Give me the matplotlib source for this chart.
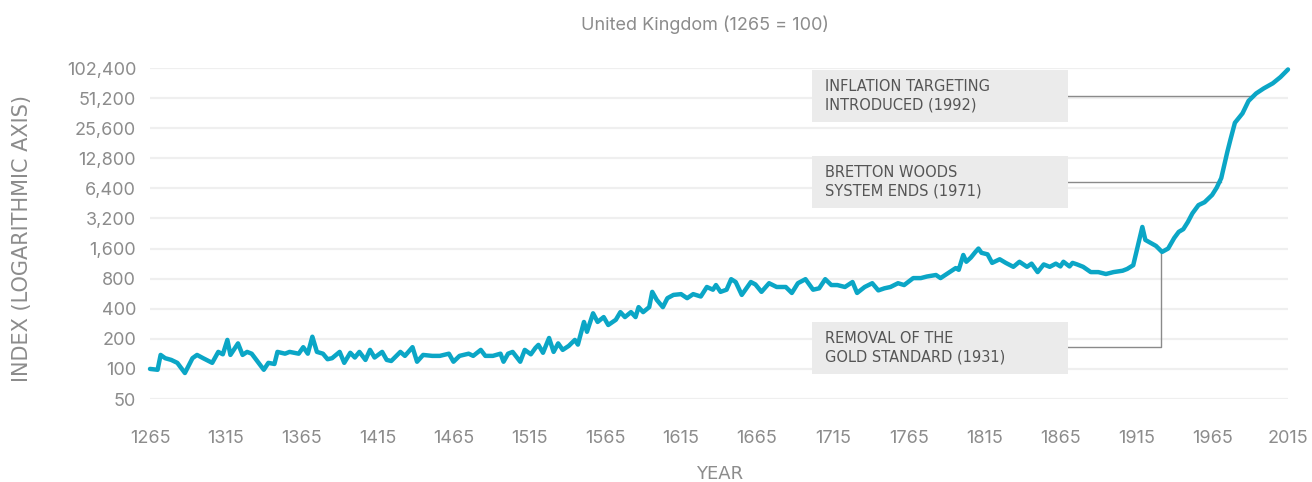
import matplotlib.pyplot as plt
from matplotlib.patches import Rectangle
from matplotlib.ticker import FixedLocator, NullLocator

plt.rcParams['font.family'] = ['Inter', 'DejaVu Sans']

LINE = "#0ba6c6"
GREY_TXT = "#8c8c8c"
GRID = "#efefef"
BOX = "#ebebeb"

# price index (1265 = 100)
years = [
    1265, 1270, 1272, 1275, 1279, 1283, 1288, 1293, 1296, 1300, 1306, 1310, 1313,
    1316, 1318, 1323, 1326, 1329, 1332, 1336, 1340, 1343, 1347, 1349, 1354, 1357,
    1363, 1366, 1369, 1372, 1375, 1379, 1382, 1385, 1390, 1393, 1397, 1400, 1403,
    1407, 1410, 1413, 1418, 1421, 1424, 1430, 1433, 1438, 1441, 1445, 1451, 1456,
    1462, 1465, 1469, 1475, 1478, 1483, 1486, 1491, 1496, 1498, 1501, 1504, 1509,
    1512, 1516, 1519, 1521, 1524, 1528, 1531, 1534, 1537, 1541, 1545, 1547, 1551,
    1553, 1557, 1560, 1564, 1567, 1572, 1575, 1578, 1582, 1585, 1587, 1590, 1594,
    1596, 1599, 1603, 1606, 1610, 1615, 1619, 1623, 1628, 1632, 1636, 1638, 1641,
    1645, 1648, 1651, 1655, 1661, 1664, 1668, 1673, 1678, 1684, 1688, 1692, 1697,
    1702, 1706, 1710, 1714, 1718, 1723, 1728, 1731, 1736, 1741, 1745, 1749, 1753,
    1758, 1762, 1768, 1773, 1777, 1783, 1786, 1791, 1796, 1798, 1801, 1803, 1806,
    1809, 1811, 1813, 1817, 1820, 1825, 1829, 1834, 1838, 1843, 1846, 1850, 1854,
    1858, 1862, 1865, 1867, 1871, 1873, 1876, 1880, 1885, 1890, 1895, 1900, 1906,
    1909, 1913, 1916, 1919, 1921, 1925, 1928, 1932, 1936, 1940, 1943, 1946, 1949,
    1952, 1956, 1960, 1965, 1968, 1971, 1973, 1975, 1977, 1980, 1985, 1989, 1994,
    1999, 2005, 2010, 2015,
]
index = [
    100, 98, 138, 128, 123, 115, 91, 128, 138, 128, 115, 148, 140,
    195, 138, 180, 138, 148, 142, 118, 98, 115, 112, 148, 142, 148,
    142, 165, 142, 210, 148, 142, 125, 128, 148, 115, 145, 130, 148,
    123, 155, 130, 148, 123, 120, 148, 135, 165, 118, 138, 135, 135,
    142, 118, 135, 142, 135, 155, 135, 135, 142, 118, 142, 148, 118,
    155, 140, 162, 174, 145, 204, 148, 180, 155, 170, 195, 175, 295,
    235, 360, 295, 330, 275, 310, 370, 330, 370, 330, 415, 370, 415,
    590, 490, 415, 510, 550, 560, 510, 560, 530, 660, 620, 690, 590,
    620, 790, 740, 550, 740, 700, 590, 720, 660, 660, 575, 720, 790,
    620, 640, 790, 690, 690, 660, 740, 575, 660, 720, 610, 640, 660,
    720, 690, 810, 810, 840, 870, 810, 910, 1020, 980, 1380, 1180, 1300,
    1480, 1600, 1450, 1400, 1150, 1250, 1150, 1050, 1180, 1050, 1130, 930, 1110,
    1050, 1130, 1060, 1180, 1060, 1150, 1110, 1050, 930, 930, 890, 930, 960,
    1000, 1090, 1700, 2630, 1950, 1800, 1700, 1480, 1600, 2040, 2350, 2500, 2950,
    3600, 4350, 4650, 5500, 6500, 8100, 11000, 14800, 19500, 29000, 36000, 48000, 57000,
    64000, 72000, 83000, 99000,
]

y_ticks = [50, 100, 200, 400, 800, 1600, 3200, 6400, 12800, 25600, 51200, 102400]
x_ticks = list(range(1265, 2016, 50))

# annotations: label, event year, index where the connector meets the curve
events = [
    ("INFLATION TARGETING\nINTRODUCED (1992)", 1992, 53700),
    ("BRETTON WOODS\nSYSTEM ENDS (1971)", 1971, 7400),
    ("REMOVAL OF THE\nGOLD STANDARD (1931)", 1931, 1480),
]

W, H = 1312, 482
fig = plt.figure(figsize=(W / 100, H / 100), dpi=100)
ax = fig.add_axes([150 / W, (H - 399) / H, (1288 - 150) / W, (399 - 68) / H])

ax.set_yscale("log")
ax.set_xlim(1265, 2015)
ax.set_ylim(50, 102400)
ax.yaxis.set_major_locator(FixedLocator(y_ticks))
ax.yaxis.set_minor_locator(NullLocator())
ax.set_yticklabels([f"{v:,}" for v in y_ticks])
ax.set_xticks(x_ticks)
ax.tick_params(length=0, labelsize=13, colors=GREY_TXT, pad=10)
ax.tick_params(axis="x", pad=22)
ax.grid(True, axis="y", color=GRID, lw=1.6)
ax.set_axisbelow(True)
for s in ax.spines.values():
    s.set_visible(False)

ax.plot(years, index, color=LINE, lw=3.2, solid_joinstyle="round",
        solid_capstyle="round", clip_on=False, zorder=5)

# annotation boxes sit in figure pixels, connectors go to the curve
box_tops = [70, 156, 322]
box_x0, box_x1, box_h = 812, 1068, 52
for (label, yr, val), top in zip(events, box_tops):
    fig.patches.append(Rectangle((box_x0 / W, (H - top - box_h) / H),
                                 (box_x1 - box_x0) / W, box_h / H,
                                 transform=fig.transFigure, fc=BOX, ec="none"))
    fig.text((box_x0 + 13) / W, (H - top - box_h / 2) / H, label,
             fontsize=10.5, color="#555555", ha="left", va="center",
             linespacing=1.3, family=["DejaVu Sans"])

ax_x_left = 1265 + (box_x1 - 150) / (1288 - 150) * (2015 - 1265)
for label, yr, val in events[:2]:
    ax.plot([ax_x_left, yr], [val, val], color="#8a8a8a", lw=1, zorder=3,
            clip_on=False)
# gold standard: elbow from box up to the dip
yr, val = events[2][1], events[2][2]
ax.plot([ax_x_left, yr, yr], [166, 166, val], color="#8a8a8a", lw=1,
        zorder=3, clip_on=False)

fig.text(705 / W, (H - 25) / H, "United Kingdom (1265 = 100)", ha="center",
         va="center", fontsize=13, color=GREY_TXT)
fig.text(720 / W, (H - 474) / H, "YEAR", ha="center", va="center",
         fontsize=13, color=GREY_TXT, family=["DejaVu Sans"])
fig.text(22 / W, (H - 238) / H, "INDEX (LOGARITHMIC AXIS)", rotation=90,
         ha="center", va="center", fontsize=15, color=GREY_TXT,
         family=["DejaVu Sans"])

fig.savefig("out.png", dpi=100)
